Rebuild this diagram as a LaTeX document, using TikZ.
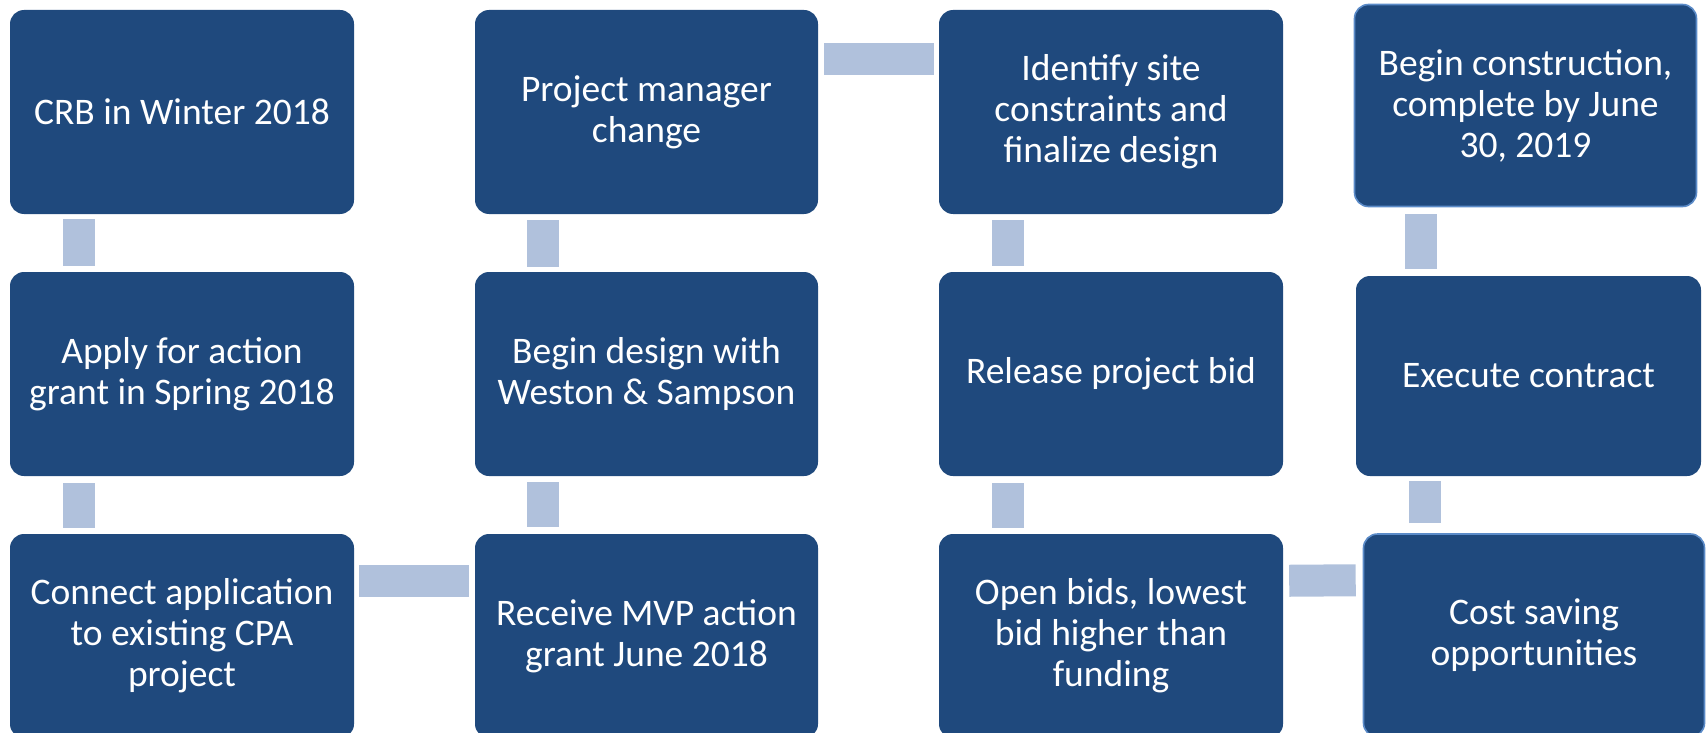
\documentclass[tikz,border=0pt]{standalone}
\usepackage{fontspec}
\setmainfont{Carlito}
\definecolor{boxblue}{HTML}{1F497D}
\definecolor{connblue}{HTML}{B0C1DC}
\definecolor{edgeblue}{HTML}{5B8BC8}
\tikzset{
  stepbox/.style={rectangle, rounded corners=14pt, fill=boxblue, draw=none,
    text=white, align=center, inner sep=0pt,
    font=\fontsize{37.5}{41}\selectfont},
  edged/.style={draw=edgeblue, line width=1.6pt},
  conn/.style={draw=connblue, line width=32pt}
}
\begin{document}
\begin{tikzpicture}[x=1pt,y=-1pt]
\useasboundingbox (0,0) rectangle (1708,733);
% column 1
\node[stepbox, minimum width=344pt, minimum height=204pt] (a1) at (182,112) {CRB in Winter 2018};
\node[stepbox, minimum width=344pt, minimum height=204pt] (a2) at (182,374) {Apply for action\\grant in Spring 2018};
\node[stepbox, minimum width=344pt, minimum height=204pt] (a3) at (182,636) {Connect application\\to existing CPA\\project};
% column 2
\node[stepbox, minimum width=343pt, minimum height=204pt] (b1) at (646.5,112) {Project manager\\change};
\node[stepbox, minimum width=343pt, minimum height=204pt] (b2) at (646.5,374) {Begin design with\\Weston \& Sampson};
\node[stepbox, minimum width=343pt, minimum height=204pt] (b3) at (646.5,636) {Receive MVP action\\grant June 2018};
% column 3
\node[stepbox, minimum width=344pt, minimum height=204pt] (c1) at (1111,112) {Identify site\\constraints and\\finalize design};
\node[stepbox, minimum width=344pt, minimum height=204pt] (c2) at (1111,374) {Release project bid};
\node[stepbox, minimum width=344pt, minimum height=204pt] (c3) at (1111,636) {Open bids, lowest\\bid higher than\\funding};
% column 4
\node[stepbox, edged, minimum width=342pt, minimum height=202pt] (d1) at (1525.5,105.5) {Begin construction,\\complete by June\\30, 2019};
\node[stepbox, minimum width=345pt, minimum height=200pt] (d2) at (1528.5,376) {Execute contract};
\node[stepbox, edged, minimum width=341pt, minimum height=203pt] (d3) at (1534,635.5) {Cost saving\\opportunities};
% connectors
\draw[conn, shorten <=5pt, shorten >=6pt] ([xshift=69pt]a1.south west) -- ([xshift=69pt]a2.north west);
\draw[conn, shorten <=7pt, shorten >=6pt] ([xshift=69pt]a2.south west) -- ([xshift=69pt]a3.north west);
\draw[conn, shorten <=5pt, shorten >=6pt] ([yshift=-47pt]a3.north east) -- ([yshift=-47pt]b3.north west);
\draw[conn, shorten <=7pt, shorten >=6pt] ([xshift=68pt]b3.north west) -- ([xshift=68pt]b2.south west);
\draw[conn, shorten <=5pt, shorten >=6pt] ([xshift=68pt]b2.north west) -- ([xshift=68pt]b1.south west);
\draw[conn, shorten <=6pt, shorten >=5pt] ([yshift=-49pt]b1.north east) -- ([yshift=-49pt]c1.north west);
\draw[conn, shorten <=6pt, shorten >=6pt] ([xshift=69pt]c1.south west) -- ([xshift=69pt]c2.north west);
\draw[conn, shorten <=7pt, shorten >=6pt] ([xshift=69pt]c2.south west) -- ([xshift=69pt]c3.north west);
\draw[conn, shorten <=7pt, shorten >=6pt] ([yshift=-47pt]d3.north west) -- ([yshift=-47pt]c3.north east);
\draw[conn, shorten <=10pt, shorten >=5pt] ([xshift=62pt]d3.north west) -- ([xshift=62pt]d3.north west |- d2.south);
\draw[conn, shorten <=7pt, shorten >=7pt] ([xshift=65pt]d2.north west) -- ([xshift=65pt]d2.north west |- d1.south);
\end{tikzpicture}
\end{document}
